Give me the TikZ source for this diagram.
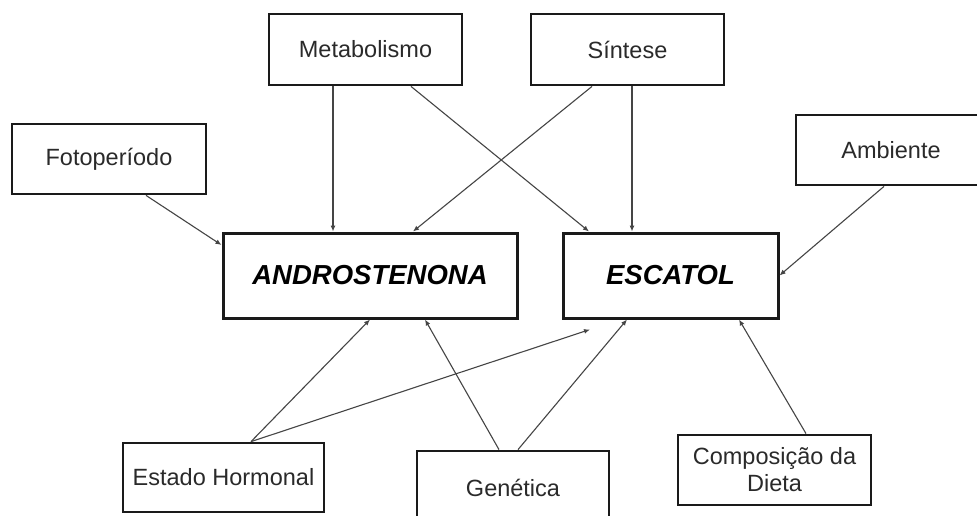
\documentclass[tikz,border=0pt]{standalone}
\usepackage{fontspec}
\setmainfont{Liberation Sans}
\usetikzlibrary{arrows.meta}
\definecolor{boxline}{HTML}{1A1A1A}
\definecolor{conn}{HTML}{454545}
\definecolor{txt}{HTML}{2A2A2A}
\tikzset{
  smallbox/.style={draw=boxline, line width=2.8pt, rectangle, inner sep=0pt, align=center,
    text=txt, font=\fontsize{23.5}{27}\selectfont},
  bigbox/.style={draw=boxline, line width=3pt, rectangle, inner sep=0pt, align=center,
    text=black, font=\fontsize{27.5}{30}\selectfont\bfseries\itshape},
  conn/.style={draw=conn, line width=1.1pt, -{Latex[length=6pt,width=5pt]}}
}
\begin{document}
\begin{tikzpicture}[x=1pt,y=-1pt]
\useasboundingbox (0,0) rectangle (977,515);
\clip (0,0) rectangle (977,515);
\fill[white] (0,0) rectangle (977,515);
% top / side factors
\node[smallbox, minimum width=193pt, minimum height=71pt] (met) at (365.5,49.5) {Metabolismo};
\node[smallbox, minimum width=193pt, minimum height=71pt] (sin) at (627.5,49.5) {Síntese};
\node[smallbox, minimum width=194pt, minimum height=70pt] (foto) at (109,159) {Fotoperíodo};
\node[smallbox, minimum width=190pt, minimum height=70pt] (amb) at (891,150) {Ambiente};
% main boxes
\node[bigbox, minimum width=294pt, minimum height=85pt] (andro) at (370,275.5) {ANDROSTENONA};
\node[bigbox, minimum width=215pt, minimum height=85pt] (esc) at (670.5,275.5) {ESCATOL};
% bottom factors
\node[smallbox, minimum width=201pt, minimum height=69pt] (est) at (223.5,477.5) {Estado Hormonal};
\node[smallbox, minimum width=192pt, minimum height=74pt] (gen) at (513,488) {Genética};
\node[smallbox, minimum width=193pt, minimum height=70pt] (comp) at (774.5,470) {Composição da\\Dieta};
\coordinate (estend) at ([xshift=-80.5pt,yshift=-10pt]esc.south);
% connectors
\draw[conn] ([xshift=-32.5pt]met.south) -- ([xshift=-37pt]andro.north);
\draw[conn] ([xshift=45.5pt]met.south) -- ([xshift=-81.5pt]esc.north);
\draw[conn] ([xshift=-35.5pt]sin.south) -- ([xshift=43pt]andro.north);
\draw[conn] ([xshift=4.5pt]sin.south) -- ([xshift=-38.5pt]esc.north);
\draw[conn] ([xshift=37pt]foto.south) -- ([yshift=30.5pt]andro.west);
\draw[conn] ([xshift=-7pt]amb.south) -- (esc.east);
\draw[conn] ([xshift=27.5pt]est.north) -- (andro.south);
\draw[conn] ([xshift=27.5pt]est.north) -- (estend);
\draw[conn] ([xshift=-14pt]gen.north) -- ([xshift=55pt]andro.south);
\draw[conn] ([xshift=5pt]gen.north) -- ([xshift=-43.5pt]esc.south);
\draw[conn] ([xshift=31.5pt]comp.north) -- ([xshift=68.5pt]esc.south);
\end{tikzpicture}
\end{document}
